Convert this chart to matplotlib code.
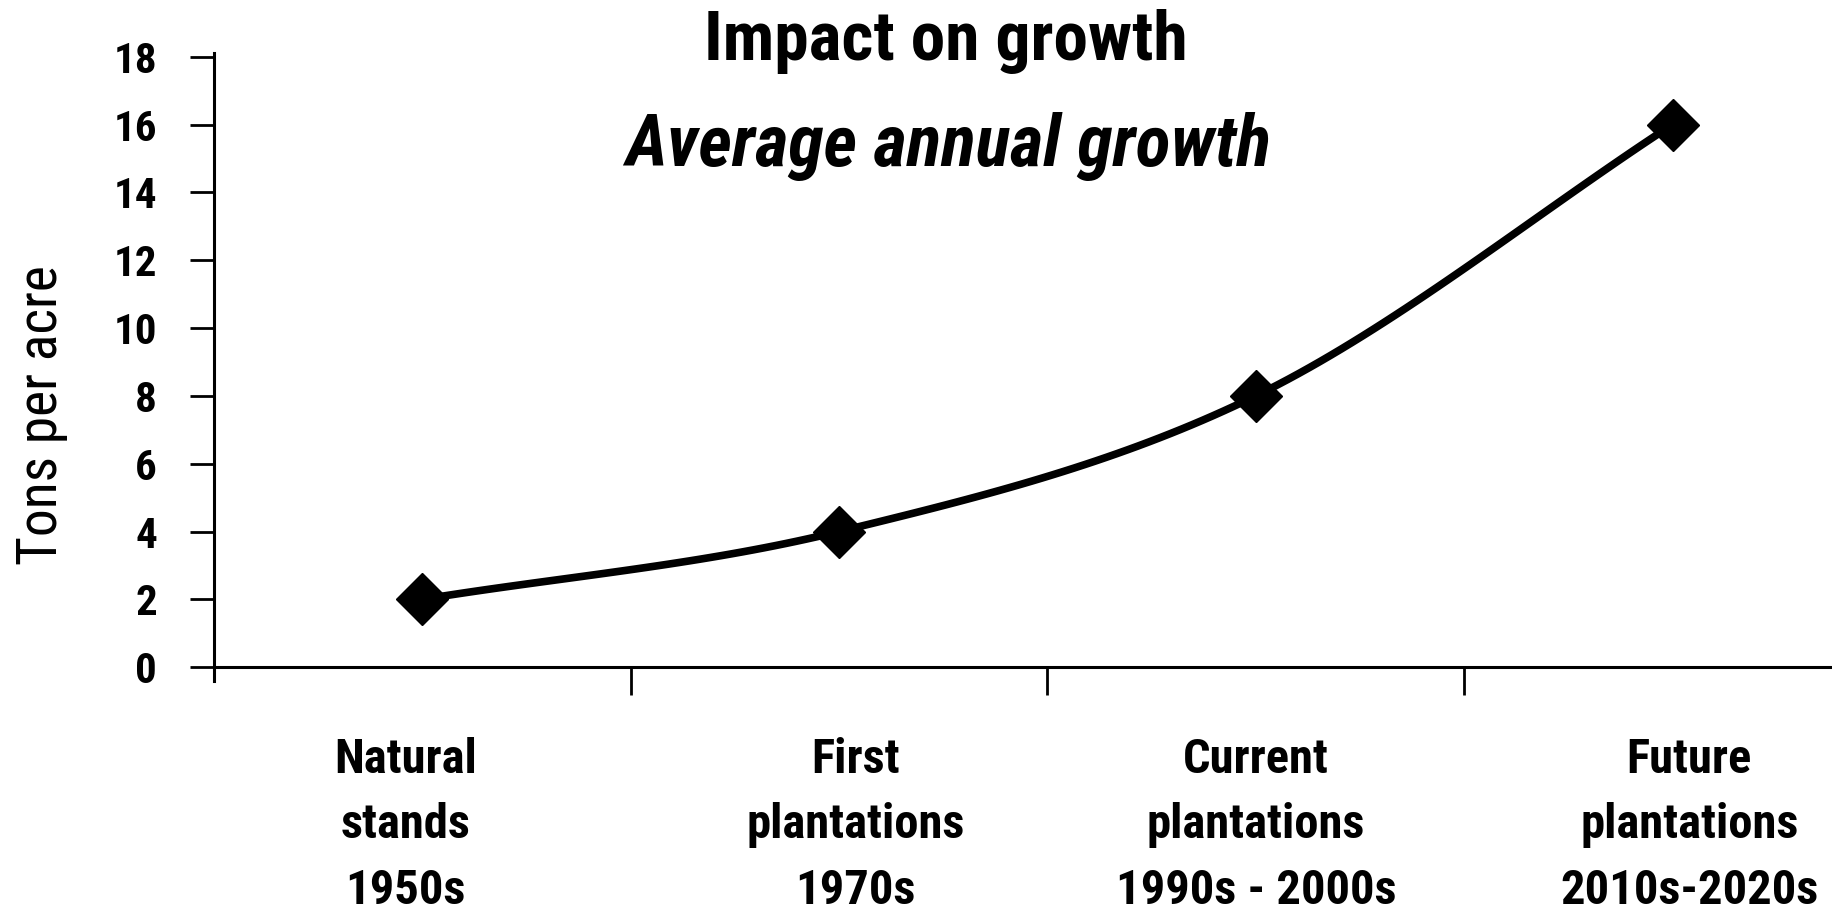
import numpy as np
import matplotlib
matplotlib.use("Agg")
import matplotlib.pyplot as plt
from matplotlib import font_manager

names = {f.name for f in font_manager.fontManager.ttflist}
cands = ['Roboto Condensed', 'Liberation Sans Narrow', 'Open Sans Condensed', 'Liberation Sans']
fam = [c for c in cands if c in names][:1] + ['DejaVu Sans']
plt.rcParams['font.family'] = fam

# data
categories = ["Natural\nstands\n1950s", "First\nplantations\n1970s",
              "Current\nplantations\n1990s - 2000s", "Future\nplantations\n2010s-2020s"]
growth = [2, 4, 8, 16]
yticks = [0, 2, 4, 6, 8, 10, 12, 14, 16, 18]

x = np.arange(len(categories))
y = np.array(growth, dtype=float)


def catmull_rom(px, py, n=40):
    # smooth line through the points, like the spreadsheet "smoothed line"
    px = np.concatenate([[2 * px[0] - px[1]], px, [2 * px[-1] - px[-2]]])
    py = np.concatenate([[2 * py[0] - py[1]], py, [2 * py[-1] - py[-2]]])
    xs, ys = [], []
    for i in range(1, len(px) - 2):
        t = np.linspace(0, 1, n)
        for arr, out in ((px, xs), (py, ys)):
            p0, p1, p2, p3 = arr[i - 1], arr[i], arr[i + 1], arr[i + 2]
            out.extend(0.5 * (2 * p1 + (-p0 + p2) * t
                              + (2 * p0 - 5 * p1 + 4 * p2 - p3) * t ** 2
                              + (-p0 + 3 * p1 - 3 * p2 + p3) * t ** 3))
    return np.array(xs), np.array(ys)


fig = plt.figure(figsize=(18.33, 9.19), dpi=100)
ax = fig.add_axes([0.1167, 0.274, 0.8833, 0.668])

sx, sy = catmull_rom(x.astype(float), y)
ax.plot(sx, sy, color='black', lw=5.5, solid_capstyle='round', zorder=2)
ax.plot(x, y, linestyle='none', marker='D', ms=26, color='black', zorder=3)

ax.set_xlim(-0.5, 3.385)
ax.set_ylim(0, 18.1)

for s in ['top', 'right']:
    ax.spines[s].set_visible(False)
ax.spines['left'].set_linewidth(2.2)
ax.spines['bottom'].set_linewidth(2.2)
ax.spines['left'].set_bounds(-0.4, 18.1)

ax.set_yticks(yticks)
ax.set_yticklabels([str(v) for v in yticks], fontsize=31, fontweight='bold')
ax.tick_params(axis='y', length=17, width=2, pad=24, direction='out')

# tick marks between categories
ax.set_xticks(x[:-1] + 0.5)
ax.set_xticklabels([])
ax.tick_params(axis='x', length=20, width=2, direction='out')

# category labels below the axis, nudged as in the original
label_dx = [-0.04, 0.04, 0.0, 0.04]
for xi, dx, lab in zip(x, label_dx, categories):
    ax.annotate(lab, xy=(xi + dx, 0), xycoords=('data', 'axes fraction'),
                xytext=(0, -50), textcoords='offset points', ha='center', va='top',
                fontsize=35, fontweight='semibold', linespacing=1.55,
                annotation_clip=False)

fig.text(0.0224, 0.548, "Tons per acre", rotation=90, ha='center', va='center', fontsize=40)
fig.text(0.516, 0.955, "Impact on growth", ha='center', va='center',
         fontsize=50, fontweight='semibold')
fig.text(0.517, 0.841, "Average annual growth", ha='center', va='center',
         fontsize=52, fontweight='bold', fontstyle='italic')

fig.savefig("out.png", dpi=100, facecolor='white')
